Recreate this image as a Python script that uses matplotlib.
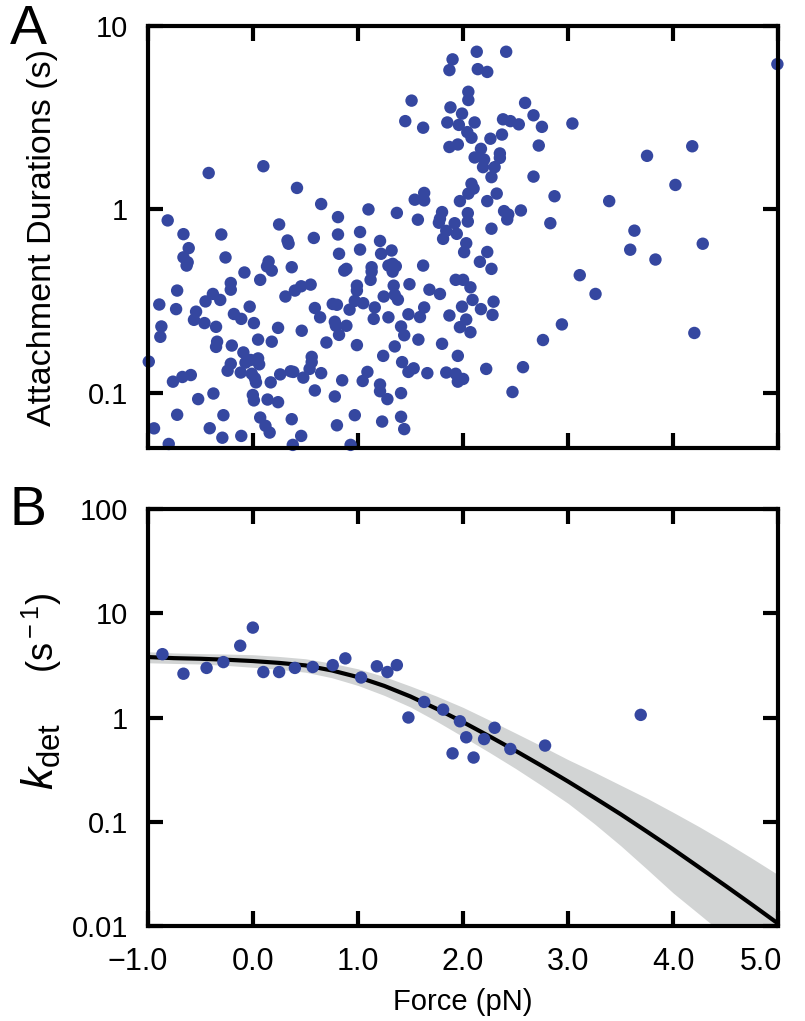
import numpy as np
import matplotlib
matplotlib.use('Agg')
import matplotlib.pyplot as plt
from matplotlib.ticker import FixedLocator, FixedFormatter, NullLocator
from matplotlib.transforms import ScaledTranslation

plt.rcParams['font.family'] = ['Liberation Sans', 'DejaVu Sans']
plt.rcParams['mathtext.fontset'] = 'custom'
plt.rcParams['mathtext.rm'] = 'Liberation Sans'
plt.rcParams['mathtext.it'] = 'Liberation Sans:italic'

# Panel A: individual attachment events (force, duration)
force_a = [
    -0.42, 0.10, 0.42, -0.81, -0.66, -0.30, 0.25, 0.65, 0.81, 1.10, 1.37, 1.51,
    1.45, 1.62, 1.54, 1.63, 1.63, 1.57, 1.02, 0.81, 0.58, 0.33, 0.34, 1.21,
    1.90, 1.87, 1.88, 1.85, 1.96, 1.99, 2.05, 2.05, 2.04, 1.87, 1.95, 1.80,
    1.78, 1.77, 1.92, 1.97, 1.84, 1.94, 2.13, 2.41, 2.14, 2.23, 2.11, 2.59,
    2.67, 2.38, 2.45, 2.53, 2.75, 3.04, 2.08, 2.26, 2.37, 2.72, 2.17, 2.11,
    2.20, 2.35, 2.35, 2.19, 2.30, 2.27, 2.67, 2.08, 2.10, 2.05, 2.32, 2.23,
    2.87, 3.39, 2.045, 2.045, 2.39, 2.43, 2.42, 2.55, 2.83, 2.27, 4.99, 3.75,
    4.18, 4.02, 3.63, 4.28, 3.59, 3.83, 3.11, 3.26, 2.94, 2.76, 4.20, 2.57,
    2.22, 2.47, 1.95, 1.84, 1.93, 1.95, 2.00, 1.80, 1.81, 2.03, 2.01, 2.23,
    2.16, 2.27, 1.93, 2.00, 2.07, 1.78, 2.09, 2.29, 1.99, 2.17, 1.87, 2.28,
    2.03, 1.97, 2.07, -0.61, -0.66, -0.62, -0.63, -0.26, 0.15, 0.135, 0.18, 0.37,
    -0.08, 0.07, -0.72, -0.21, -0.21, -0.38, -0.45, -0.31, -0.89, -0.73, -0.54, -0.56,
    -0.03, -0.18, -0.11, -0.46, -0.35, 0.01, -0.87, -0.88, 0.24, 0.31, 0.40, 0.46,
    0.05, 0.18, 0.465, -0.34, -0.35, -0.20, -0.09, -0.99, -0.21, -0.24, -0.07, -0.02,
    0.05, 0.06, -0.115, -0.01, 0.02, 0.03, 0.17, 0.26, 0.36, 0.385, 0.48, -0.76,
    -0.67, -0.59, -0.375, -0.52, 0.00, 0.01, 0.14, 0.24, -0.72, -0.28, 0.07, 0.12,
    0.16, 0.37, -0.94, -0.41, -0.29, -0.11, -0.80, 0.38, 0.46, 0.82, 1.02, 1.22,
    1.32, 0.87, 0.89, 1.13, 1.13, 1.29, 1.33, 1.36, 1.33, 1.62, 1.12, 0.55,
    0.99, 0.99, 1.34, 1.49, 1.68, 1.245, 1.35, 1.38, 0.97, 1.05, 0.76, 0.80,
    0.59, 0.64, 0.92, 1.16, 1.63, 1.59, 1.48, 1.15, 1.29, 0.78, 0.79, 0.82,
    0.89, 1.41, 1.44, 1.575, 0.70, 0.99, 1.35, 1.24, 0.56, 0.56, 0.54, 0.65,
    1.42, 1.48, 1.53, 1.66, 1.09, 1.045, 0.85, 0.59, 0.78, 1.21, 1.21, 1.28,
    1.41, 0.97, 0.80, 1.23, 1.41, 1.44, 0.93,
]
duration_a = [
    1.58, 1.72, 1.31, 0.871, 0.733, 0.730, 0.828, 1.07, 0.908, 1.00, 0.957, 3.92,
    3.03, 2.79, 1.13, 1.23, 1.12, 0.879, 0.753, 0.730, 0.699, 0.677, 0.650, 0.673,
    6.58, 5.75, 3.60, 2.98, 2.89, 3.33, 4.38, 3.95, 2.64, 2.19, 2.26, 0.967,
    0.889, 0.846, 0.841, 1.11, 0.764, 0.736, 7.24, 7.24, 5.82, 5.62, 2.98, 3.81,
    3.26, 3.10, 3.03, 2.91, 2.82, 2.94, 2.46, 2.43, 2.56, 2.23, 2.14, 1.92,
    1.87, 2.02, 1.91, 1.70, 1.70, 1.50, 1.51, 1.38, 1.30, 1.22, 1.22, 1.11,
    1.18, 1.11, 0.954, 0.859, 0.979, 0.939, 0.882, 0.987, 0.841, 0.785, 6.20, 1.96,
    2.21, 1.36, 0.766, 0.650, 0.603, 0.533, 0.438, 0.346, 0.236, 0.194, 0.212, 0.138,
    0.135, 0.101, 0.159, 0.129, 0.127, 0.115, 0.119, 0.185, 0.691, 0.654, 0.585, 0.586,
    0.518, 0.474, 0.413, 0.413, 0.376, 0.346, 0.321, 0.314, 0.295, 0.286, 0.264, 0.266,
    0.251, 0.228, 0.214, 0.615, 0.548, 0.515, 0.494, 0.547, 0.520, 0.489, 0.464, 0.484,
    0.453, 0.413, 0.361, 0.397, 0.365, 0.346, 0.315, 0.321, 0.303, 0.286, 0.277, 0.250,
    0.295, 0.269, 0.253, 0.240, 0.229, 0.240, 0.230, 0.202, 0.226, 0.335, 0.361, 0.381,
    0.195, 0.190, 0.218, 0.190, 0.178, 0.181, 0.166, 0.148, 0.144, 0.132, 0.146, 0.151,
    0.154, 0.143, 0.129, 0.127, 0.120, 0.114, 0.114, 0.126, 0.131, 0.130, 0.121, 0.115,
    0.122, 0.125, 0.0991, 0.0924, 0.0973, 0.0909, 0.0919, 0.0889, 0.0759, 0.0755, 0.0733, 0.0661,
    0.0607, 0.0718, 0.0640, 0.0641, 0.0569, 0.0582, 0.0526, 0.0520, 0.0582, 0.573, 0.604, 0.573,
    0.597, 0.464, 0.474, 0.484, 0.458, 0.494, 0.505, 0.490, 0.458, 0.494, 0.413, 0.389,
    0.384, 0.361, 0.384, 0.391, 0.365, 0.335, 0.342, 0.322, 0.317, 0.308, 0.305, 0.302,
    0.290, 0.258, 0.284, 0.292, 0.292, 0.259, 0.268, 0.253, 0.258, 0.244, 0.232, 0.207,
    0.232, 0.230, 0.206, 0.195, 0.188, 0.182, 0.179, 0.159, 0.157, 0.147, 0.135, 0.128,
    0.147, 0.130, 0.136, 0.128, 0.130, 0.116, 0.117, 0.103, 0.0955, 0.111, 0.102, 0.0924,
    0.0996, 0.0755, 0.0665, 0.0697, 0.0740, 0.0634, 0.0520,
]

# Panel B: binned detachment rates
force_b = [-0.86, -0.66, -0.44, -0.28, -0.12, 0.00, 0.10, 0.25, 0.40, 0.57, 0.76, 0.88,
           1.03, 1.18, 1.28, 1.37, 1.48, 1.63, 1.81, 1.97, 1.90, 2.03, 2.10, 2.20,
           2.30, 2.45, 2.78, 3.69]
kdet_b = [4.05, 2.63, 2.99, 3.40, 4.88, 7.28, 2.73, 2.73, 2.99, 3.05, 3.18, 3.69,
          2.42, 3.10, 2.73, 3.18, 1.00, 1.41, 1.19, 0.92, 0.453, 0.646, 0.413, 0.621,
          0.797, 0.499, 0.538, 1.06]

# fitted curve and its confidence band, every 0.25 pN
fit_force = [-1.0, -0.75, -0.5, -0.25, 0.0, 0.25, 0.5, 0.75, 1.0, 1.25, 1.5, 1.75,
             2.0, 2.25, 2.5, 2.75, 3.0, 3.25, 3.5, 3.75, 4.0, 4.25, 4.5, 4.75, 5.0]
fit_k = [3.80, 3.71, 3.66, 3.58, 3.48, 3.34, 3.16, 2.83, 2.44, 2.01, 1.59, 1.21,
         0.903, 0.661, 0.479, 0.343, 0.243, 0.170, 0.118, 0.0804, 0.0544, 0.0363,
         0.0242, 0.0160, 0.0105]
band_upper = [4.27, 4.16, 4.10, 4.06, 4.00, 3.85, 3.66, 3.32, 2.93, 2.47, 2.00, 1.60,
              1.25, 0.945, 0.709, 0.531, 0.394, 0.299, 0.224, 0.168, 0.123, 0.0892,
              0.0635, 0.0445, 0.0309]
band_lower = [3.35, 3.30, 3.26, 3.16, 3.03, 2.90, 2.72, 2.41, 2.03, 1.63, 1.26, 0.918,
              0.654, 0.463, 0.324, 0.222, 0.150, 0.0956, 0.0589, 0.0351, 0.0207, 0.0129,
              0.0080, 0.0050, 0.0032]

x_ticks = [-1.0, 0.0, 1.0, 2.0, 3.0, 4.0, 5.0]
x_tick_labels = ['\u22121.0', '0.0', '1.0', '2.0', '3.0', '4.0', '5.0']
a_y_ticks = [0.1, 1, 10]
a_y_labels = ['0.1', '1', '10']
b_y_ticks = [0.01, 0.1, 1, 10, 100]
b_y_labels = ['0.01', '0.1', '1', '10', '100']

DOT = '#3547a0'
FS = 21


def style_axis(ax, yticks, ylabels):
    """Frame, inward ticks on all four sides, fixed tick labels."""
    for sp in ax.spines.values():
        sp.set_linewidth(3)
    ax.set_yscale('log')
    ax.set_xlim(-1, 5)
    ax.xaxis.set_major_locator(FixedLocator(x_ticks))
    ax.yaxis.set_major_locator(FixedLocator(yticks))
    ax.yaxis.set_major_formatter(FixedFormatter(ylabels))
    ax.yaxis.set_minor_locator(NullLocator())
    ax.tick_params(which='major', direction='in', length=11, width=3,
                   top=True, right=True, labelsize=FS)
    ax.tick_params(axis='y', pad=14)
    ax.tick_params(axis='x', pad=15, labelsize=22)


def main():
    fig = plt.figure(figsize=(8.05, 10.21), dpi=100)
    ax_a = fig.add_axes([0.1835, 0.5612, 0.7835, 0.4133])
    ax_b = fig.add_axes([0.1835, 0.0930, 0.7835, 0.4085])

    # --- A ---
    ax_a.scatter(force_a, duration_a, s=80, color=DOT, edgecolors='none',
                 clip_on=False, zorder=2)
    style_axis(ax_a, a_y_ticks, a_y_labels)
    ax_a.set_ylim(0.05, 10)
    ax_a.set_xticklabels([])
    ax_a.set_ylabel('Attachment Durations (s)', fontsize=24.5)
    ax_a.yaxis.set_label_coords(-0.142, 0.5)
    fig.text(0.012, 0.996, 'A', fontsize=40, va='top', ha='left')

    # --- B ---
    ax_b.fill_between(fit_force, band_lower, band_upper, color='#d2d4d4',
                      linewidth=0, zorder=1)
    ax_b.plot(fit_force, fit_k, color='black', linewidth=3, zorder=2)
    ax_b.scatter(force_b, kdet_b, s=80, color=DOT, edgecolors='none',
                 clip_on=False, zorder=3)
    style_axis(ax_b, b_y_ticks, b_y_labels)
    ax_b.set_ylim(0.01, 100)
    ax_b.xaxis.set_major_formatter(FixedFormatter(x_tick_labels))
    ax_b.set_xlabel('Force (pN)', fontsize=FS, labelpad=8)
    fig.text(0.012, 0.525, 'B', fontsize=40, va='top', ha='left')

    # the end labels sit a little to the left of their ticks
    ticks = ax_b.xaxis.get_major_ticks()
    for tk, dx in ((ticks[0], -10), (ticks[-1], -17)):
        tk.label1.set_transform(tk.label1.get_transform() +
                                ScaledTranslation(dx / 100, 0, fig.dpi_scale_trans))

    # y label of B: big italic k with subscript, then the unit
    x_base = 54 / 805
    fig.text(x_base, 1 - 790 / 1021, r'$k_{\rm det}$', fontsize=32, rotation=90,
             rotation_mode='anchor', ha='left', va='baseline')
    fig.text(x_base, 1 - 592 / 1021, r'(s$^{\rm -1}$)', fontsize=26, rotation=90,
             rotation_mode='anchor', ha='right', va='baseline')

    fig.savefig('out.png', dpi=100)


if __name__ == "__main__":
    main()
